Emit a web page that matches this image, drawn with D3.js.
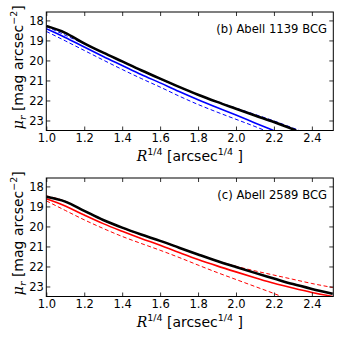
<!DOCTYPE html>
<html><head><meta charset="utf-8">
<script src="https://cdn.jsdelivr.net/npm/d3@7"></script>
<style>body{margin:0;background:#fff}svg{display:block}</style>
</head><body>
<script>
// ---- data ----
const xTicks = [1.0, 1.2, 1.4, 1.6, 1.8, 2.0, 2.2, 2.4];
const yTicks = [18, 19, 20, 21, 22, 23];
const panelLabels = ["(b) Abell 1139 BCG", "(c) Abell 2589 BCG"];

// panel (b)
const bBlackX = [1.0, 1.1, 1.2, 1.3, 1.4, 1.5, 1.6, 1.7, 1.8, 1.9, 2.0, 2.1, 2.2, 2.317];
const bBlackY = [18.28, 18.62, 19.15, 19.61, 20.05, 20.49, 20.91, 21.32, 21.71, 22.07, 22.41, 22.75, 23.08, 23.5];
const bFitX = [1.0, 1.1, 1.2, 1.3, 1.4, 1.5, 1.6, 1.7, 1.8, 1.9, 2.0, 2.1, 2.198];
const bFitY = [18.42, 18.85, 19.33, 19.8, 20.25, 20.7, 21.12, 21.55, 21.96, 22.35, 22.73, 23.12, 23.5];
const bLowX = [1.0, 1.1, 1.2, 1.3, 1.4, 1.5, 1.6, 1.7, 1.8, 1.9, 2.0, 2.1, 2.153];
const bLowY = [18.55, 19.02, 19.5, 19.98, 20.45, 20.9, 21.33, 21.78, 22.2, 22.58, 22.94, 23.3, 23.5];
const bUpX = [1.0, 1.2, 1.4, 1.6, 1.8, 2.0, 2.2, 2.335];
const bUpY = [18.3, 19.18, 20.06, 20.93, 21.72, 22.38, 23.02, 23.5];

// panel (c)
const cBlackX = [1.0, 1.1, 1.2, 1.3, 1.4, 1.5, 1.6, 1.7, 1.8, 1.9, 2.0, 2.1, 2.2, 2.3, 2.4, 2.51];
const cBlackY = [18.52, 18.76, 19.22, 19.68, 20.06, 20.4, 20.72, 21.06, 21.4, 21.73, 22.03, 22.32, 22.6, 22.88, 23.12, 23.36];
const cFitX = [1.0, 1.1, 1.2, 1.3, 1.4, 1.5, 1.6, 1.7, 1.8, 1.9, 2.0, 2.1, 2.2, 2.3, 2.4, 2.51];
const cFitY = [18.62, 18.98, 19.43, 19.86, 20.24, 20.6, 20.94, 21.3, 21.65, 21.97, 22.27, 22.56, 22.84, 23.08, 23.3, 23.5];
const cLowX = [1.0, 1.1, 1.2, 1.3, 1.4, 1.5, 1.6, 1.7, 1.8, 1.9, 2.0, 2.1, 2.2, 2.24];
const cLowY = [18.72, 19.2, 19.67, 20.1, 20.5, 20.85, 21.19, 21.55, 21.93, 22.3, 22.65, 23.0, 23.35, 23.5];
const cUpX = [1.0, 1.1, 1.2, 1.3, 1.4, 1.6, 1.8, 2.0, 2.1, 2.2, 2.3, 2.4, 2.51];
const cUpY = [18.47, 18.74, 19.22, 19.7, 20.08, 20.73, 21.4, 21.99, 22.22, 22.43, 22.64, 22.85, 23.05];

const zip = (xs, ys) => xs.map((x, i) => [x, ys[i]]);

const panels = [
  {top: 12, label: panelLabels[0], color: "#0000ff",
   series: [
     {d: zip(bUpX, bUpY), dash: true},
     {d: zip(bLowX, bLowY), dash: true},
     {d: zip(bFitX, bFitY), dash: false},
     {d: zip(bBlackX, bBlackY), black: true}
   ]},
  {top: 178, label: panelLabels[1], color: "#ff0000",
   series: [
     {d: zip(cUpX, cUpY), dash: true},
     {d: zip(cLowX, cLowY), dash: true},
     {d: zip(cFitX, cFitY), dash: false},
     {d: zip(cBlackX, cBlackY), black: true}
   ]}
];

const W = 341, H = 341;
const left = 46.3, right = 333.3, ph = 118.5;
const svg = d3.select("body").append("svg").attr("width", W).attr("height", H)
  .style("font-family", "'DejaVu Sans', sans-serif");

const x = d3.scaleLinear().domain([1.0, 2.513]).range([left, right]);

panels.forEach((p, pi) => {
  const y = d3.scaleLinear().domain([17.58, 23.5]).range([p.top, p.top + ph]);
  const g = svg.append("g");
  const clipId = "clip" + pi;
  svg.append("clipPath").attr("id", clipId).append("rect")
    .attr("x", left).attr("y", p.top).attr("width", right - left).attr("height", ph);

  const line = d3.line().x(d => x(d[0])).y(d => y(d[1])).curve(d3.curveMonotoneX);
  const lg = g.append("g").attr("clip-path", `url(#${clipId})`);
  p.series.forEach(s => {
    lg.append("path").attr("d", line(s.d)).attr("fill", "none")
      .attr("stroke", s.black ? "#000" : p.color)
      .attr("stroke-width", s.black ? 2.6 : (s.dash ? 1 : 1.6))
      .attr("stroke-dasharray", s.dash ? "4,2.5" : null);
  });

  // axes (inward ticks, matplotlib classic)
  const ax = (gen, tr) => g.append("g").attr("transform", tr).call(gen)
    .call(a => a.select(".domain").remove());
  const bottom = ax(d3.axisBottom(x).tickValues(xTicks).tickFormat(d3.format(".1f")).tickSizeInner(-4).tickPadding(3), `translate(0,${p.top + ph})`);
  const topA = ax(d3.axisTop(x).tickValues(xTicks).tickFormat("").tickSizeInner(-4), `translate(0,${p.top})`);
  const leftA = ax(d3.axisLeft(y).tickValues(yTicks).tickFormat(d3.format("d")).tickSizeInner(-4).tickPadding(2.5), `translate(${left},0)`);
  const rightA = ax(d3.axisRight(y).tickValues(yTicks).tickFormat("").tickSizeInner(-4), `translate(${right},0)`);
  [bottom, topA, leftA, rightA].forEach(a => {
    a.selectAll("text").attr("font-size", 11.5).attr("fill", "#000").style("font-family", "'DejaVu Sans', sans-serif");
    a.selectAll("line").attr("stroke", "#000").attr("stroke-width", 0.8);
  });

  g.append("rect").attr("x", left).attr("y", p.top).attr("width", right - left).attr("height", ph)
    .attr("fill", "none").attr("stroke", "#000").attr("stroke-width", 1);

  // panel label
  g.append("text").attr("x", 327).attr("y", p.top + 20.5).attr("text-anchor", "end")
    .attr("font-size", 11.6).text(p.label);

  // x title
  const xt = g.append("text").attr("x", (left + right) / 2).attr("y", p.top + ph + 30)
    .attr("text-anchor", "middle").attr("font-size", 14);
  xt.append("tspan").attr("font-family", "'DejaVu Serif', serif").attr("font-style", "italic").text("R");
  xt.append("tspan").attr("font-size", 9.5).attr("dy", -6).text("1/4");
  xt.append("tspan").attr("dy", 6).text("  [arcsec");
  xt.append("tspan").attr("font-size", 9.5).attr("dy", -6).text("1/4");
  xt.append("tspan").attr("dy", 6).text(" ]");

  // y title
  const yt = g.append("text").attr("transform", `translate(23,${p.top + ph / 2 - 4}) rotate(-90)`)
    .attr("text-anchor", "middle").attr("font-size", 14);
  yt.append("tspan").attr("font-family", "'DejaVu Serif', serif").attr("font-style", "italic").text("μ");
  yt.append("tspan").attr("font-family", "'DejaVu Serif', serif").attr("font-style", "italic").attr("font-size", 9.5).attr("dy", 3).text("r");
  yt.append("tspan").attr("dy", -3).text(" [mag arcsec");
  yt.append("tspan").attr("font-size", 9.5).attr("dy", -6).text("−2");
  yt.append("tspan").attr("dy", 6).text("]");
});
</script>
</body></html>
